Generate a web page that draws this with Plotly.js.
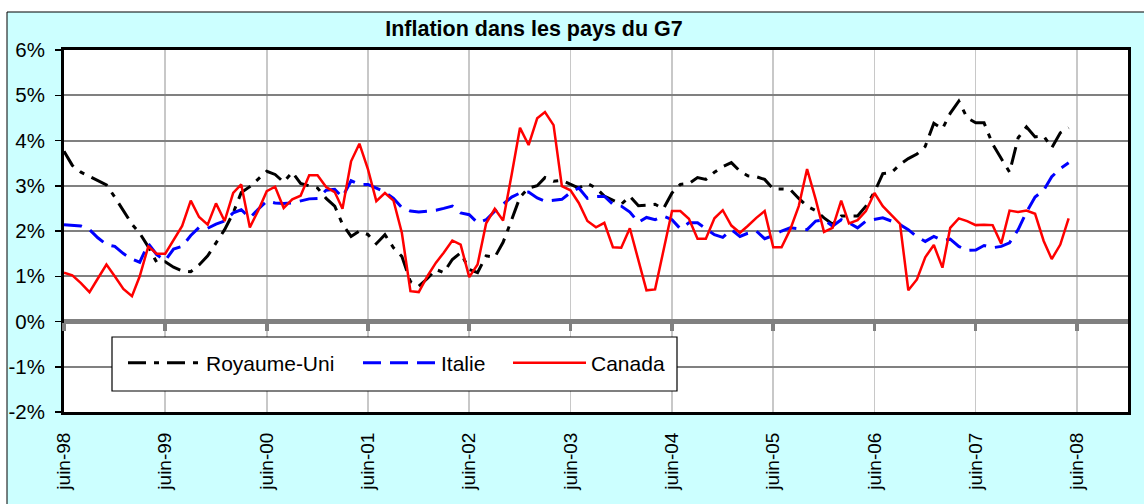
<!DOCTYPE html>
<html>
<head>
<meta charset="utf-8">
<script src="https://cdn.plot.ly/plotly-3.0.1.min.js"></script>
<style>html,body{margin:0;padding:0;background:#fff;}#chart{width:1144px;height:504px;}</style>
</head>
<body>
<div id="chart"></div>
<script>
// ---- data (inflation, % yoy), monthly from juin-98 to mai-08 ----
const startYear = 1998, startMonth = 6, nMonths = 120;
const royaumeUni = [3.76,3.45,3.30,3.20,3.12,3.02,2.75,2.45,2.15,1.95,1.65,1.31,1.32,1.20,1.12,1.10,1.25,1.45,1.75,2.03,
  2.40,2.85,2.98,3.15,3.32,3.25,3.08,3.30,3.05,3.00,2.95,2.72,2.55,2.15,1.88,2.00,1.92,1.72,1.92,1.63,
  1.44,0.88,0.78,0.95,1.15,1.08,1.37,1.52,1.15,1.08,1.45,1.42,1.75,2.25,2.75,2.95,3.00,3.18,3.10,3.12,
  3.03,2.95,3.05,2.95,2.77,2.68,2.59,2.77,2.56,2.57,2.59,2.49,2.84,3.03,3.05,3.18,3.14,3.30,3.42,3.51,
  3.32,3.22,3.20,3.14,2.93,2.93,2.92,2.72,2.55,2.45,2.29,2.15,2.33,2.33,2.33,2.55,2.86,3.27,3.29,3.47,
  3.60,3.70,3.87,4.38,4.26,4.60,4.87,4.50,4.39,4.39,3.92,3.60,3.30,4.06,4.30,4.08,4.10,3.84,4.17,4.28];
const italie = [2.14,2.13,2.11,2.03,1.85,1.70,1.66,1.50,1.38,1.31,1.72,1.48,1.35,1.60,1.66,1.90,2.08,2.06,2.15,2.22,
  2.40,2.47,2.29,2.48,2.66,2.62,2.61,2.62,2.66,2.71,2.72,2.90,2.92,2.75,3.11,3.03,3.03,2.95,2.86,2.72,
  2.52,2.44,2.42,2.44,2.46,2.50,2.55,2.40,2.36,2.18,2.25,2.44,2.60,2.75,2.84,2.86,2.73,2.66,2.68,2.70,
  2.85,2.95,2.72,2.76,2.77,2.59,2.55,2.42,2.19,2.30,2.25,2.33,2.25,2.05,2.18,2.18,2.05,1.92,1.86,2.03,
  1.88,1.95,2.00,1.83,1.90,2.00,2.07,2.05,2.03,2.22,2.25,2.11,2.25,2.18,2.07,2.22,2.25,2.29,2.22,2.14,
  2.03,1.87,1.77,1.88,1.79,1.82,1.66,1.57,1.58,1.68,1.63,1.66,1.74,2.03,2.42,2.75,2.90,3.20,3.38,3.51];
const canada = [1.08,1.02,0.85,0.65,0.95,1.26,1.00,0.72,0.56,1.00,1.66,1.50,1.50,1.80,2.11,2.67,2.31,2.14,2.61,2.22,
  2.84,3.03,2.08,2.45,2.88,2.98,2.51,2.70,2.78,3.23,3.23,2.97,2.86,2.49,3.54,3.93,3.36,2.66,2.84,2.67,
  1.96,0.67,0.65,1.00,1.30,1.52,1.79,1.70,0.98,1.26,2.17,2.49,2.23,3.25,4.28,3.90,4.49,4.63,4.34,2.99,
  2.90,2.62,2.22,2.08,2.18,1.64,1.63,2.06,1.35,0.69,0.71,1.55,2.44,2.44,2.27,1.83,1.83,2.28,2.46,2.12,
  1.96,2.11,2.29,2.44,1.64,1.64,2.03,2.55,3.37,2.70,1.98,2.07,2.67,2.17,2.24,2.44,2.84,2.55,2.35,2.16,
  0.69,0.93,1.42,1.69,1.19,2.07,2.28,2.22,2.13,2.14,2.13,1.72,2.45,2.42,2.45,2.38,1.78,1.38,1.70,2.28];
const tickDates = ['1998-06-01','1999-06-01','2000-06-01','2001-06-01','2002-06-01','2003-06-01','2004-06-01','2005-06-01','2006-06-01','2007-06-01','2008-06-01'];
const tickLabels = ['juin-98','juin-99','juin-00','juin-01','juin-02','juin-03','juin-04','juin-05','juin-06','juin-07','juin-08'];
const yTickVals = [-2,-1,0,1,2,3,4,5,6];
const yTickLabels = ['-2%','-1%','0%','1%','2%','3%','4%','5%','6%'];
const seriesNames = ['Royaume-Uni','Italie','Canada'];

const months = [];
for (let i = 0; i < nMonths; i++) {
  const tot = startMonth - 1 + i;
  const y = startYear + Math.floor(tot / 12), m = (tot % 12) + 1;
  months.push(y + '-' + String(m).padStart(2, '0') + '-01');
}

const FONT = 'Arial, "Liberation Sans", sans-serif';
const xRange = ['1998-06-01', '2008-12-01'];

const traces = [
  {x: months, y: royaumeUni, name: seriesNames[0], type: 'scatter', mode: 'lines', legend: 'legend',
   line: {color: '#000000', width: 3, dash: '18px,8px,5px,8px'}},
  {x: months, y: italie, name: seriesNames[1], type: 'scatter', mode: 'lines', legend: 'legend2',
   line: {color: '#0000FF', width: 3, dash: '18px,9px'}},
  {x: months, y: canada, name: seriesNames[2], type: 'scatter', mode: 'lines', legend: 'legend3',
   xaxis: 'x2', line: {color: '#FF0000', width: 2.5}}
];

// pixel helpers for paper coords (plot area 64..1128 x 50..412)
const px = v => (v - 64) / 1064;
const py = v => (412 - v) / 362;

const legendCommon = {orientation: 'h', bgcolor: 'rgba(0,0,0,0)', borderwidth: 0,
  font: {family: FONT, size: 21, color: '#000'}, xanchor: 'left', yanchor: 'middle',
  y: py(363), itemwidth: 73, itemclick: false, itemdoubleclick: false};

const layout = {
  width: 1144, height: 504,
  paper_bgcolor: '#CCFFFF', plot_bgcolor: '#FFFFFF',
  margin: {l: 64, r: 16, t: 50, b: 92},
  font: {family: FONT, color: '#000'},
  title: {text: '<b>Inflation dans les pays du G7</b>', font: {family: FONT, size: 21.5, color: '#000'},
          x: 534 / 1144, xanchor: 'center', y: 1 - 28 / 504, yanchor: 'middle'},
  showlegend: true,
  legend: Object.assign({}, legendCommon, {x: px(123)}),
  legend2: Object.assign({}, legendCommon, {x: px(358)}),
  legend3: Object.assign({}, legendCommon, {x: px(508)}),
  xaxis: {type: 'date', range: xRange, tickvals: tickDates, ticktext: tickLabels, tickangle: -90,
          ticks: '', showgrid: true, gridcolor: '#C8C8C8', gridwidth: 1.5, zeroline: false,
          showline: true, mirror: true, linecolor: '#000', linewidth: 3,
          ticklabelstandoff: 10, tickfont: {family: FONT, size: 19, color: '#000'}},
  xaxis2: {type: 'date', range: xRange, overlaying: 'x', anchor: 'free', position: 0.25, side: 'bottom',
           tickvals: tickDates, ticktext: tickLabels, showticklabels: false, ticks: 'outside',
           ticklen: 8, tickwidth: 3.5, tickcolor: '#808080', showgrid: false, zeroline: false, showline: false},
  yaxis: {range: [-2, 6], tickvals: yTickVals, ticktext: yTickLabels, ticks: 'outside', ticklen: 6,
          tickwidth: 1.5, tickcolor: '#000', showgrid: true, gridcolor: '#808080', gridwidth: 2,
          zeroline: true, zerolinecolor: '#808080', zerolinewidth: 4.5,
          showline: true, mirror: true, linecolor: '#000', linewidth: 3,
          ticklabelstandoff: 6, tickfont: {family: FONT, size: 20.5, color: '#000'}},
  shapes: [
    {type: 'rect', xref: 'paper', yref: 'paper', x0: px(0), x1: px(1144), y0: py(12), y1: py(0),
     fillcolor: '#FFFFFF', line: {width: 0}, layer: 'below'},
    {type: 'rect', xref: 'paper', yref: 'paper', x0: px(0), x1: px(7), y0: py(504), y1: py(12),
     fillcolor: '#FFFFFF', line: {width: 0}, layer: 'below'},
    {type: 'rect', xref: 'paper', yref: 'paper', x0: px(7), x1: px(1150), y0: py(510), y1: py(12),
     fillcolor: 'rgba(0,0,0,0)', line: {color: '#000', width: 1}, layer: 'below'},
    {type: 'line', xref: 'paper', yref: 'y', x0: 0, x1: 1, y0: 3, y1: 3, line: {color: '#FFFFFF', width: 2}, layer: 'below'},
    {type: 'line', xref: 'paper', yref: 'y', x0: 0, x1: 1, y0: 3, y1: 3, line: {color: '#000', width: 1.2}, layer: 'below'},
    {type: 'line', xref: 'paper', yref: 'y', x0: 0, x1: 1, y0: -1, y1: -1, line: {color: '#FFFFFF', width: 2}, layer: 'below'},
    {type: 'line', xref: 'paper', yref: 'y', x0: 0, x1: 1, y0: -1, y1: -1, line: {color: '#000', width: 1.2}, layer: 'below'},
    {type: 'rect', xref: 'paper', yref: 'paper', x0: px(112), x1: px(677), y0: py(391), y1: py(337),
     fillcolor: '#FFFFFF', line: {color: '#000', width: 1.2}, layer: 'above'}
  ]
};

Plotly.newPlot('chart', traces, layout, {displayModeBar: false, staticPlot: true});
</script>
</body>
</html>
